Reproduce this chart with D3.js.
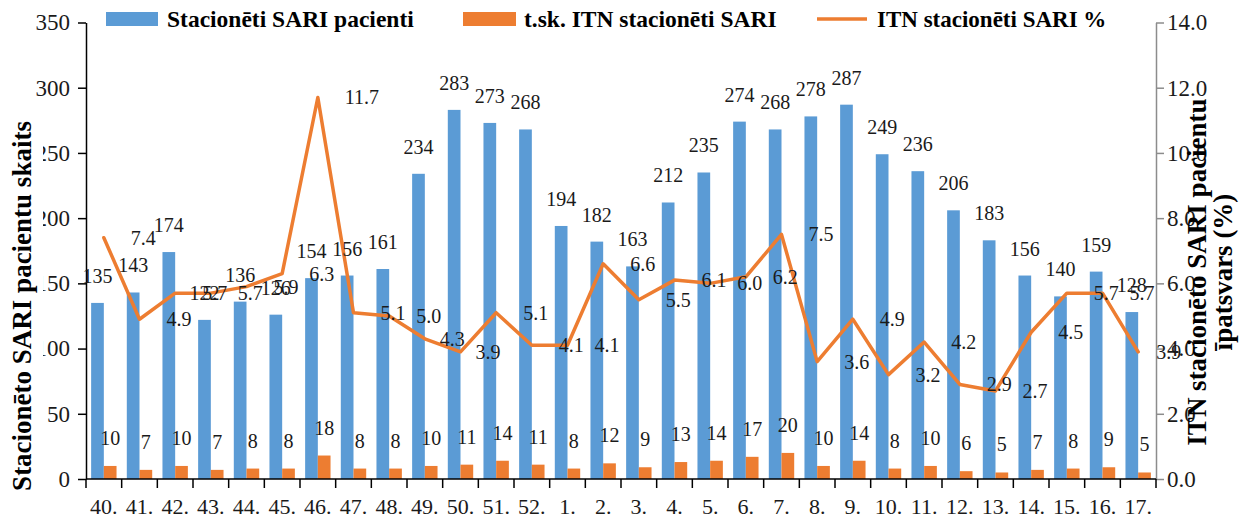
<!DOCTYPE html>
<html>
<head>
<meta charset="utf-8">
<script src="https://cdn.jsdelivr.net/npm/d3@7"></script>
<style>
  html, body { margin: 0; padding: 0; background: #ffffff; }
  svg { display: block; }
  text { font-family: "Liberation Serif", "Times New Roman", serif; }
</style>
</head>
<body>
<svg id="chart" width="1253" height="520"></svg>
<script>
// ---- data ----
const weeks = ["40.","41.","42.","43.","44.","45.","46.","47.","48.","49.","50.","51.","52.",
               "1.","2.","3.","4.","5.","6.","7.","8.","9.","10.","11.","12.","13.","14.","15.","16.","17."];
const patients = [135,143,174,122,136,126,154,156,161,234,283,273,268,194,182,163,212,235,274,268,278,287,249,236,206,183,156,140,159,128];
const icuPatients = [10,7,10,7,8,8,18,8,8,10,11,14,11,8,12,9,13,14,17,20,10,14,8,10,6,5,7,8,9,5];
const icuPercent = [7.4,4.9,5.7,5.7,5.9,6.3,11.7,5.1,5.0,4.3,3.9,5.1,4.1,4.1,6.6,5.5,6.1,6.0,6.2,7.5,3.6,4.9,3.2,4.2,2.9,2.7,4.5,5.7,5.7,3.9];
const leftTicks = [0,50,100,150,200,250,300,350];
const rightTicks = [0,2,4,6,8,10,12,14];
const seriesNames = ["Stacionēti SARI pacienti", "t.sk. ITN stacionēti SARI", "ITN stacionēti SARI %"];
const leftTitle = "Stacionēto SARI pacientu skaits";
const rightTitle = ["ITN stacionēto SARI pacientu", "īpatsvars (%)"];

// ---- layout ----
const BLUE = "#5B9BD5", ORANGE = "#ED7D31", INK = "#1a1a1a";
const svg = d3.select("#chart");
const pLeft = 86, pRight = 1156, pTop = 22.5, pBottom = 479;

const x = d3.scaleBand().domain(weeks).range([pLeft, pRight]).padding(0);
const bw = x.bandwidth();
const barW = bw * 0.356;
const yL = d3.scaleLinear().domain([0, 350]).range([pBottom, pTop]);
const yR = d3.scaleLinear().domain([0, 14]).range([pBottom, pTop]);
const cx = w => x(w) + bw / 2;

// left axis
const gL = svg.append("g").attr("transform", `translate(${pLeft},0)`)
  .call(d3.axisLeft(yL).tickValues(leftTicks).tickSize(8).tickSizeOuter(0).tickPadding(8).tickFormat(d3.format("d")));
gL.select(".domain").attr("stroke", "#000").attr("stroke-width", 1.5);
gL.selectAll(".tick line").attr("stroke", "#000").attr("stroke-width", 1.5);
gL.selectAll(".tick text").attr("font-size", 23).attr("fill", INK);

// right axis
const gR = svg.append("g").attr("transform", `translate(${pRight},0)`)
  .call(d3.axisRight(yR).tickValues(rightTicks).tickSize(8).tickSizeOuter(0).tickPadding(3).tickFormat(d3.format(".1f")));
gR.select(".domain").attr("stroke", "#8c8c8c").attr("stroke-width", 1.5);
gR.selectAll(".tick line").attr("stroke", "#8c8c8c").attr("stroke-width", 1.5);
gR.selectAll(".tick text").attr("font-size", 23).attr("fill", INK);

// bars
svg.append("g").selectAll("rect").data(weeks).join("rect")
  .attr("x", (w) => cx(w) - barW)
  .attr("y", (w, i) => yL(patients[i]))
  .attr("width", barW)
  .attr("height", (w, i) => pBottom - yL(patients[i]))
  .attr("fill", BLUE);
svg.append("g").selectAll("rect").data(weeks).join("rect")
  .attr("x", (w) => cx(w))
  .attr("y", (w, i) => yL(icuPatients[i]))
  .attr("width", barW)
  .attr("height", (w, i) => pBottom - yL(icuPatients[i]))
  .attr("fill", ORANGE);

// x axis (category boundaries as ticks)
const gX = svg.append("g");
gX.append("line").attr("x1", pLeft).attr("x2", pRight).attr("y1", pBottom).attr("y2", pBottom)
  .attr("stroke", "#000").attr("stroke-width", 1.5);
const bounds = weeks.map(w => x(w)).concat([x(weeks[weeks.length - 1]) + bw]);
gX.selectAll(".xt").data(bounds).join("line")
  .attr("x1", d => d).attr("x2", d => d).attr("y1", pBottom).attr("y2", pBottom + 9)
  .attr("stroke", "#000").attr("stroke-width", 1.5);
gX.selectAll(".xl").data(weeks).join("text")
  .attr("x", w => cx(w)).attr("y", 514)
  .attr("text-anchor", "middle").attr("font-size", 22).attr("fill", INK)
  .text(w => w);

// line
const line = d3.line().x((d, i) => cx(weeks[i])).y(d => yR(d));
svg.append("path").datum(icuPercent)
  .attr("d", line).attr("fill", "none").attr("stroke", ORANGE)
  .attr("stroke-width", 3.5).attr("stroke-linejoin", "round").attr("stroke-linecap", "round");

// data labels
svg.append("g").selectAll("text").data(weeks).join("text")
  .attr("x", w => cx(w) - barW / 2)
  .attr("y", (w, i) => yL(patients[i]) - 20)
  .attr("text-anchor", "middle").attr("font-size", 20).attr("fill", INK)
  .text((w, i) => patients[i]);
svg.append("g").selectAll("text").data(weeks).join("text")
  .attr("x", w => cx(w) + barW / 2)
  .attr("y", (w, i) => yL(icuPatients[i]) - 21)
  .attr("text-anchor", "middle").attr("font-size", 20).attr("fill", INK)
  .text((w, i) => icuPatients[i]);
const lineLabelShift = i => (i === 9 || i === 10) ? 15 : (i === 29 ? 18 : 27);
svg.append("g").selectAll("text").data(weeks).join("text")
  .attr("x", (w, i) => cx(w) + lineLabelShift(i))
  .attr("y", (w, i) => yR(icuPercent[i]))
  .attr("dy", "0.35em")
  .attr("text-anchor", "start").attr("font-size", 20).attr("fill", INK)
  .text((w, i) => icuPercent[i].toFixed(1));

// left title with white background
svg.append("rect").attr("x", 5).attr("y", 115).attr("width", 38).attr("height", 380).attr("fill", "#fff");
svg.append("text")
  .attr("transform", `translate(31,306) rotate(-90)`)
  .attr("text-anchor", "middle").attr("font-size", 27).attr("font-weight", "bold").attr("fill", "#000")
  .text(leftTitle);

// right title
svg.append("text")
  .attr("transform", `translate(1206,272) rotate(-90)`)
  .attr("text-anchor", "middle").attr("font-size", 27).attr("font-weight", "bold").attr("fill", "#000")
  .text(rightTitle[0]);
svg.append("text")
  .attr("transform", `translate(1232,272) rotate(-90)`)
  .attr("text-anchor", "middle").attr("font-size", 27).attr("font-weight", "bold").attr("fill", "#000")
  .text(rightTitle[1]);

// legend
const lg = svg.append("g");
lg.append("rect").attr("x", 106).attr("y", 12).attr("width", 52).attr("height", 14).attr("fill", BLUE);
lg.append("text").attr("x", 167).attr("y", 27).attr("font-size", 23.5).attr("font-weight", "bold").text(seriesNames[0]);
lg.append("rect").attr("x", 463).attr("y", 12).attr("width", 53).attr("height", 14).attr("fill", ORANGE);
lg.append("text").attr("x", 524).attr("y", 27).attr("font-size", 23.5).attr("font-weight", "bold").text(seriesNames[1]);
lg.append("line").attr("x1", 817).attr("x2", 867).attr("y1", 19).attr("y2", 19)
  .attr("stroke", ORANGE).attr("stroke-width", 3.5);
lg.append("text").attr("x", 877).attr("y", 27).attr("font-size", 23).attr("font-weight", "bold").text(seriesNames[2]);
</script>
</body>
</html>
